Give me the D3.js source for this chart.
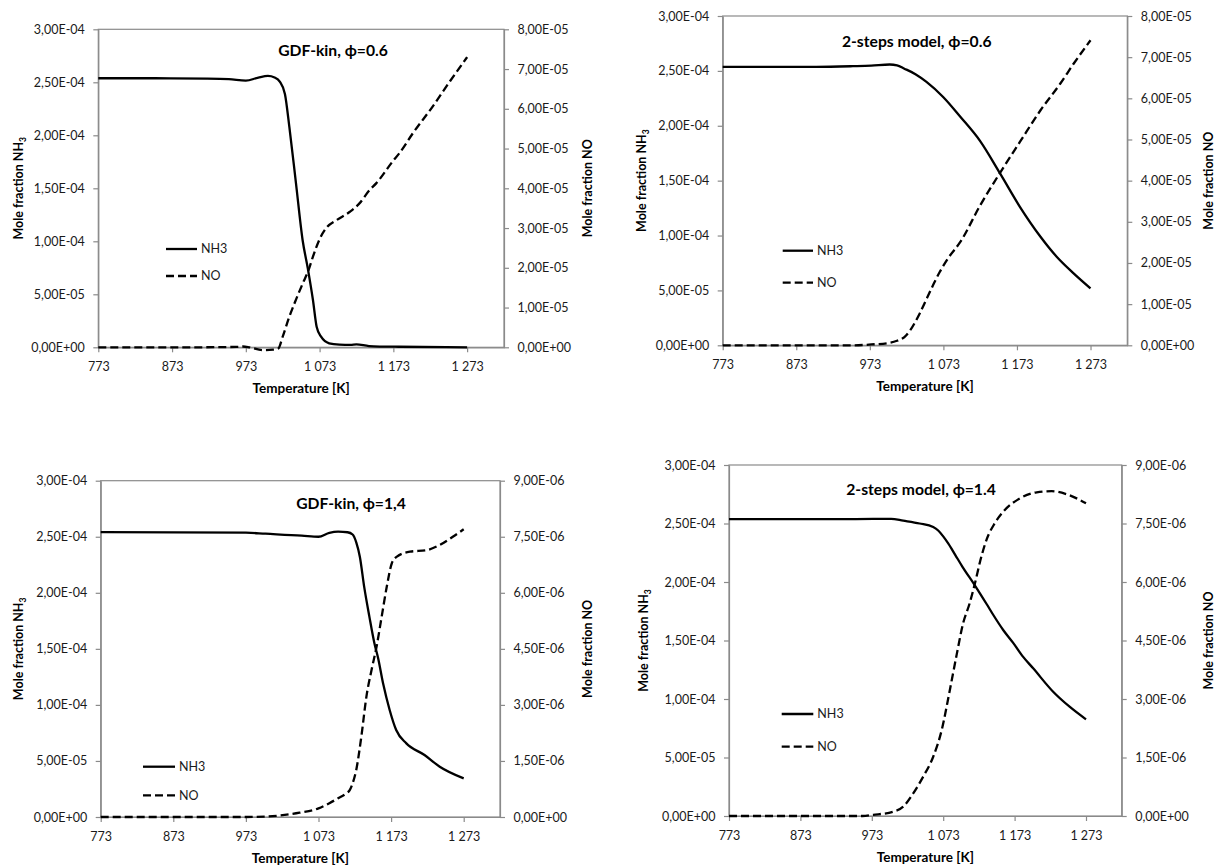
<!DOCTYPE html>
<html>
<head>
<meta charset="utf-8">
<script src="https://cdn.jsdelivr.net/npm/d3@7"></script>
<style>
  body { margin: 0; background: #fff; }
  svg { display: block; font-family: Lato, "Open Sans", sans-serif; }
</style>
</head>
<body>
<svg id="fig" width="1216" height="868"></svg>
<script>
// ---------- shared axis ticks ----------
const tempTicks = [773, 873, 973, 1073, 1173, 1273];
const nh3Ticks = [0, 5e-5, 1e-4, 1.5e-4, 2e-4, 2.5e-4, 3e-4];
const noTicksLean = [0, 1e-5, 2e-5, 3e-5, 4e-5, 5e-5, 6e-5, 7e-5, 8e-5];
const noTicksRich = [0, 1.5e-6, 3e-6, 4.5e-6, 6e-6, 7.5e-6, 9e-6];

// ---------- GDF-kin, phi = 0.6 ----------
const gdfLeanNH3T = [773, 850, 920, 950, 973, 990, 1003, 1012, 1019, 1026, 1032, 1041, 1050, 1057, 1064, 1069, 1075, 1086, 1100, 1115, 1123, 1140, 1180, 1273];
const gdfLeanNH3 = [2.538, 2.538, 2.535, 2.53, 2.515, 2.545, 2.56, 2.545, 2.506, 2.39, 2.08, 1.547, 1.01, 0.745, 0.446, 0.194, 0.10, 0.038, 0.025, 0.022, 0.028, 0.012, 0.005, 0.0].map(v => v * 1e-4);
const gdfLeanNOT = [773, 900, 960, 969, 978, 996, 1010, 1017, 1023, 1032, 1041, 1050, 1058, 1064, 1073, 1082, 1096, 1114, 1127, 1141, 1150, 1173, 1181, 1200, 1226, 1250, 1273];
const gdfLeanNO = [0, 0, 0.01, 0.02, 0, -0.07, -0.06, -0.03, 0.27, 0.77, 1.2, 1.6, 1.94, 2.28, 2.72, 3.0, 3.2, 3.41, 3.62, 3.96, 4.13, 4.7, 4.88, 5.4, 6.05, 6.7, 7.30].map(v => v * 1e-5);

// ---------- 2-steps model, phi = 0.6 ----------
const twoLeanNH3T = [773, 900, 950, 975, 1000, 1010, 1020, 1035, 1050, 1073, 1096, 1123, 1150, 1177, 1205, 1227, 1250, 1273];
const twoLeanNH3 = [2.537, 2.537, 2.543, 2.548, 2.558, 2.55, 2.52, 2.47, 2.40, 2.26, 2.082, 1.86, 1.566, 1.262, 0.989, 0.807, 0.656, 0.519].map(v => v * 1e-4);
const twoLeanNOT = [773, 950, 975, 1000, 1010, 1020, 1028, 1041, 1050, 1060, 1068, 1080, 1096, 1123, 1150, 1177, 1205, 1232, 1250, 1273];
const twoLeanNO = [0, 0, 0.02, 0.06, 0.11, 0.2, 0.37, 0.78, 1.12, 1.5, 1.78, 2.13, 2.51, 3.4, 4.19, 4.94, 5.71, 6.36, 6.84, 7.41].map(v => v * 1e-5);

// ---------- GDF-kin, phi = 1.4 ----------
const gdfRichNH3T = [773, 973, 1000, 1050, 1073, 1088, 1100, 1113, 1120, 1125, 1130, 1136, 1143, 1150, 1155, 1162, 1171, 1180, 1194, 1219, 1240, 1273];
const gdfRichNH3 = [2.542, 2.536, 2.527, 2.51, 2.50, 2.535, 2.545, 2.54, 2.52, 2.45, 2.32, 2.05, 1.79, 1.55, 1.42, 1.19, 0.955, 0.776, 0.657, 0.553, 0.449, 0.345].map(v => v * 1e-4);
const gdfRichNOT = [773, 973, 1000, 1020, 1047, 1073, 1088, 1100, 1111, 1116, 1120, 1125, 1132, 1139, 1146, 1153, 1160, 1167, 1174, 1181, 1199, 1222, 1240, 1258, 1273];
const gdfRichNO = [0, 0, 0.01, 0.04, 0.115, 0.23, 0.37, 0.5, 0.63, 0.72, 0.9, 1.26, 2.15, 3.22, 3.93, 4.56, 5.36, 6.16, 6.79, 6.97, 7.1, 7.14, 7.28, 7.5, 7.70].map(v => v * 1e-6);

// ---------- 2-steps model, phi = 1.4 ----------
const twoRichNH3T = [773, 950, 1000, 1017, 1040, 1059, 1066, 1073, 1080, 1090, 1100, 1117.5, 1134, 1143, 1157, 1171, 1185, 1199, 1227, 1250, 1273];
const twoRichNH3 = [2.538, 2.538, 2.54, 2.524, 2.50, 2.47, 2.44, 2.39, 2.33, 2.23, 2.13, 1.97, 1.81, 1.72, 1.59, 1.48, 1.36, 1.262, 1.062, 0.934, 0.826].map(v => v * 1e-4);
const twoRichNOT = [773, 960, 975, 1003, 1017, 1031, 1045, 1059, 1071, 1082, 1092, 1101, 1110, 1117.5, 1125, 1134, 1145, 1157, 1181, 1204, 1225, 1246, 1273];
const twoRichNO = [0, 0, 0.03, 0.11, 0.24, 0.58, 1.01, 1.52, 2.21, 3.2, 4.15, 4.95, 5.45, 5.97, 6.55, 7.1, 7.5, 7.8, 8.15, 8.3, 8.33, 8.25, 8.02].map(v => v * 1e-6);

// ---------- panel layout ----------
const panels = [
  { title: "GDF-kin, \u03d5=0.6", left: 98.3, right: 504, top: 29.3, bottom: 347.3,
    titleX: 333, titleY: 50.7, legX1: 166, legX2: 197, legY1: 249, legY2: 276,
    yTitleL: 18.3, yTitleR: 588, noMax: 8e-5, noTicks: noTicksLean,
    nh3T: gdfLeanNH3T, nh3: gdfLeanNH3, noT: gdfLeanNOT, no: gdfLeanNO },
  { title: "2-steps model, \u03d5=0.6", left: 722.7, right: 1127.3, top: 16, bottom: 345.3,
    titleX: 916.7, titleY: 41.7, legX1: 782.7, legX2: 813, legY1: 250.7, legY2: 282.7,
    yTitleL: 642, yTitleR: 1208.5, noMax: 8e-5, noTicks: noTicksLean,
    nh3T: twoLeanNH3T, nh3: twoLeanNH3, noT: twoLeanNOT, no: twoLeanNO },
  { title: "GDF-kin, \u03d5=1,4", left: 100.7, right: 500, top: 480.7, bottom: 817,
    titleX: 351, titleY: 503.3, legX1: 143, legX2: 175, legY1: 766.7, legY2: 795.3,
    yTitleL: 19, yTitleR: 587.5, noMax: 9e-6, noTicks: noTicksRich,
    nh3T: gdfRichNH3T, nh3: gdfRichNH3, noT: gdfRichNOT, no: gdfRichNO },
  { title: "2-steps model, \u03d5=1.4", left: 729, right: 1121.7, top: 465, bottom: 816,
    titleX: 921, titleY: 489.3, legX1: 781.7, legX2: 813.3, legY1: 714, legY2: 746.7,
    yTitleL: 644, yTitleR: 1208.5, noMax: 9e-6, noTicks: noTicksRich,
    nh3T: twoRichNH3T, nh3: twoRichNH3, noT: twoRichNOT, no: twoRichNO }
];

const AXIS = "#8a8a8a";
const TICK_FONT = 12.5;
const X_TITLE_FONT = 13.5;
const Y_TITLE_FONT = 12.5;
const LEGEND_FONT = 12.5;
const TITLE_FONT = 15.7;

// "2,50E-04" style labels
function sci(v) {
  if (v === 0) return "0,00E+00";
  const e = Math.floor(Math.log10(Math.abs(v)) + 1e-9);
  const m = v / Math.pow(10, e);
  const sign = e < 0 ? "-" : "+";
  const ee = String(Math.abs(e)).padStart(2, "0");
  return m.toFixed(2).replace(".", ",") + "E" + sign + ee;
}
// "1 073" style labels
function temp(v) {
  return v >= 1000 ? Math.floor(v / 1000) + " " + String(v % 1000).padStart(3, "0") : String(v);
}

const svg = d3.select("#fig");

panels.forEach(p => {
  const g = svg.append("g");
  const x = d3.scaleLinear().domain([773, 1323]).range([p.left, p.right]);
  const yL = d3.scaleLinear().domain([0, 3e-4]).range([p.bottom, p.top]);
  const yR = d3.scaleLinear().domain([0, p.noMax]).range([p.bottom, p.top]);

  // plot-area frame
  g.append("rect")
    .attr("x", p.left).attr("y", p.top)
    .attr("width", p.right - p.left).attr("height", p.bottom - p.top)
    .attr("fill", "none").attr("stroke", AXIS).attr("stroke-width", 1.2);

  function styleAxis(sel) {
    sel.select(".domain").attr("stroke", AXIS).attr("stroke-width", 1.2);
    sel.selectAll(".tick line").attr("stroke", AXIS).attr("stroke-width", 1.2);
    sel.selectAll(".tick text").attr("fill", "#1a1a1a").attr("font-size", TICK_FONT)
      .attr("font-family", "Lato, 'Open Sans', sans-serif");
  }

  g.append("g").attr("transform", `translate(0,${p.bottom})`)
    .call(d3.axisBottom(x).tickValues(tempTicks).tickFormat(temp).tickSize(5).tickSizeOuter(0).tickPadding(10))
    .call(styleAxis);

  g.append("g").attr("transform", `translate(${p.left},0)`)
    .call(d3.axisLeft(yL).tickValues(nh3Ticks).tickFormat(sci).tickSize(5).tickSizeOuter(0).tickPadding(8.5))
    .call(styleAxis);

  g.append("g").attr("transform", `translate(${p.right},0)`)
    .call(d3.axisRight(yR).tickValues(p.noTicks).tickFormat(sci).tickSize(5).tickSizeOuter(0).tickPadding(8.5))
    .call(styleAxis);

  // axis titles
  const midY = (p.top + p.bottom) / 2;
  g.append("text")
    .attr("x", (p.left + p.right) / 2).attr("y", p.bottom + 45.5)
    .attr("text-anchor", "middle").attr("font-size", X_TITLE_FONT).attr("font-weight", "bold")
    .text("Temperature [K]");

  const lt = g.append("text")
    .attr("transform", `translate(${p.yTitleL},${midY}) rotate(-90)`)
    .attr("text-anchor", "middle").attr("dy", "0.35em")
    .attr("font-size", Y_TITLE_FONT).attr("font-weight", "bold");
  lt.append("tspan").text("Mole fraction NH");
  lt.append("tspan").attr("font-size", 8.5).attr("dy", "3").text("3");

  g.append("text")
    .attr("transform", `translate(${p.yTitleR},${midY}) rotate(-90)`)
    .attr("text-anchor", "middle").attr("dy", "0.35em")
    .attr("font-size", Y_TITLE_FONT).attr("font-weight", "bold")
    .text("Mole fraction NO");

  // panel title
  g.append("text")
    .attr("x", p.titleX).attr("y", p.titleY).attr("dy", "0.35em")
    .attr("text-anchor", "middle").attr("font-size", TITLE_FONT).attr("font-weight", "bold")
    .text(p.title);

  // curves
  const nh3Pts = p.nh3T.map((t, i) => [t, p.nh3[i]]);
  const noPts = p.noT.map((t, i) => [t, p.no[i]]);
  const lineL = d3.line().x(d => x(d[0])).y(d => yL(d[1])).curve(d3.curveMonotoneX);
  const lineR = d3.line().x(d => x(d[0])).y(d => yR(d[1])).curve(d3.curveMonotoneX);

  g.append("path").datum(noPts).attr("d", lineR)
    .attr("fill", "none").attr("stroke", "#000").attr("stroke-width", 2.3)
    .attr("stroke-dasharray", "8 4");
  g.append("path").datum(nh3Pts).attr("d", lineL)
    .attr("fill", "none").attr("stroke", "#000").attr("stroke-width", 2.3);

  // legend
  const leg = [
    { y: p.legY1, label: "NH3", dash: null },
    { y: p.legY2, label: "NO", dash: "8 4" }
  ];
  leg.forEach(l => {
    g.append("line")
      .attr("x1", p.legX1).attr("x2", p.legX2).attr("y1", l.y).attr("y2", l.y)
      .attr("stroke", "#000").attr("stroke-width", 2.3)
      .attr("stroke-dasharray", l.dash);
    g.append("text")
      .attr("x", p.legX2 + 4).attr("y", l.y).attr("dy", "0.35em")
      .attr("font-size", LEGEND_FONT).attr("fill", "#1a1a1a").text(l.label);
  });
});
</script>
</body>
</html>
